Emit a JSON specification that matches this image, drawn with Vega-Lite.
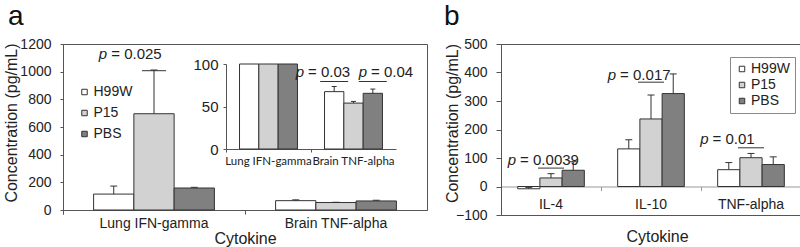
{
  "$schema": "https://vega.github.io/schema/vega-lite/v6.json",
  "background": "white",
  "padding": {"left": 2, "top": 2, "right": 0, "bottom": 0},
  "spacing": 15,
  "config": {
    "font": "Liberation Sans",
    "view": {"stroke": "#555", "strokeWidth": 1},
    "axis": {"grid": false, "domainColor": "#555", "tickColor": "#555", "labelColor": "#222", "titleColor": "#222", "labelFont": "Liberation Sans", "titleFont": "Liberation Sans", "labelFontSize": 14, "titleFontSize": 16, "titleFontWeight": "normal", "labelOverlap": false},
    "axisY": {"labelOverlap": false, "labelSeparation": 0},
    "axisLeft": {"labelOverlap": false},
    "axisQuantitative": {"labelOverlap": false},
    "legend": {"symbolType": "square", "symbolSize": 30, "symbolStrokeColor": "#333", "symbolStrokeWidth": 1, "labelFont": "Liberation Sans", "labelFontSize": 14, "labelColor": "#222", "rowPadding": 4, "labelOffset": 2},
    "title": {"font": "Liberation Sans", "fontWeight": "normal", "color": "#111", "anchor": "start", "frame": "group", "fontSize": 28}
  },
  "datasets": {
    "a": [
      {"cytokine": "Lung IFN-gamma", "group": "H99W", "mean": 115, "upper": 173},
      {"cytokine": "Lung IFN-gamma", "group": "P15", "mean": 696, "upper": 1012},
      {"cytokine": "Lung IFN-gamma", "group": "PBS", "mean": 159, "upper": 164},
      {"cytokine": "Brain TNF-alpha", "group": "H99W", "mean": 67.5, "upper": 73.5},
      {"cytokine": "Brain TNF-alpha", "group": "P15", "mean": 54, "upper": 56},
      {"cytokine": "Brain TNF-alpha", "group": "PBS", "mean": 65.5, "upper": 70.5}
    ],
    "b": [
      {"cytokine": "IL-4", "group": "H99W", "mean": -8, "upper": -3},
      {"cytokine": "IL-4", "group": "P15", "mean": 30, "upper": 45},
      {"cytokine": "IL-4", "group": "PBS", "mean": 57, "upper": 87},
      {"cytokine": "IL-10", "group": "H99W", "mean": 132, "upper": 164},
      {"cytokine": "IL-10", "group": "P15", "mean": 237, "upper": 321},
      {"cytokine": "IL-10", "group": "PBS", "mean": 326, "upper": 395},
      {"cytokine": "TNF-alpha", "group": "H99W", "mean": 59, "upper": 84},
      {"cytokine": "TNF-alpha", "group": "P15", "mean": 101, "upper": 116},
      {"cytokine": "TNF-alpha", "group": "PBS", "mean": 77, "upper": 104}
    ],
    "annA": [{"cytokine": "Lung IFN-gamma", "ty": 1092, "ly": 1007, "label": "= 0.025"}],
    "annB1": [
      {"cytokine": "IL-4", "ty": 73.7, "label": "= 0.0039"},
      {"cytokine": "IL-10", "ty": 372, "label": "= 0.017"}
    ],
    "annB2": [{"cytokine": "TNF-alpha", "ty": 150, "label": "= 0.01"}],
    "annBline": [
      {"cytokine": "IL-4", "ly": 64.6},
      {"cytokine": "IL-10", "ly": 366},
      {"cytokine": "TNF-alpha", "ly": 135.8}
    ],
    "annI1": [{"cytokine": "Lung IFN-gamma", "ty": 84.4, "label": "= 0.03"}],
    "annI2": [{"cytokine": "Brain TNF-alpha", "ty": 84.4, "label": "= 0.04"}],
    "annIline": [
      {"cytokine": "Brain TNF-alpha", "group": "H99W", "ly": 79.4},
      {"cytokine": "Brain TNF-alpha", "group": "PBS", "ly": 79.4}
    ]
  },
  "resolve": {"scale": {"fill": "independent"}, "legend": {"fill": "independent"}},
  "hconcat": [
    {
      "width": 364,
      "height": 166,
      "title": {"text": "a", "dx": -55, "offset": 6},
      "layer": [
        {
          "layer": [
            {
              "data": {"name": "a"},
              "mark": {"type": "bar", "stroke": "#333", "strokeWidth": 1},
              "encoding": {
                "x": {"field": "cytokine", "type": "nominal", "sort": ["Lung IFN-gamma", "Brain TNF-alpha"], "scale": {"paddingInner": 0, "paddingOuter": 0}, "axis": {"title": "Cytokine", "bandPosition": 0, "tickExtra": true, "labelAngle": 0, "tickSize": 4, "labelPadding": 2, "titleY": 20, "titleBaseline": "top"}},
                "xOffset": {"field": "group", "type": "nominal", "sort": ["H99W", "P15", "PBS"], "scale": {"paddingInner": 0, "paddingOuter": 0.76}},
                "y": {"field": "mean", "type": "quantitative", "scale": {"domain": [0, 1200], "nice": false}, "axis": {"title": "Concentration (pg/mL)", "values": [0, 200, 400, 600, 800, 1000, 1200], "tickCount": 7, "format": "d", "labelOverlap": false, "labelSeparation": 0, "tickSize": 3, "labelPadding": 9, "titleX": -52, "titleY": 78.5, "titleBaseline": "middle"}},
                "fill": {"field": "group", "type": "nominal", "scale": {"domain": ["H99W", "P15", "PBS"], "range": ["#ffffff", "#d2d2d2", "#808080"]}, "legend": {"title": null, "orient": "none", "legendX": 14.5, "legendY": 41, "padding": 0, "rowPadding": 7}}
              }
            },
            {
              "data": {"name": "a"},
              "mark": {"type": "rule", "color": "#333", "strokeWidth": 1},
              "encoding": {
                "x": {"field": "cytokine", "type": "nominal", "sort": ["Lung IFN-gamma", "Brain TNF-alpha"]},
                "xOffset": {"field": "group", "type": "nominal", "sort": ["H99W", "P15", "PBS"]},
                "y": {"field": "mean", "type": "quantitative"},
                "y2": {"field": "upper"}
              }
            },
            {
              "data": {"name": "a"},
              "mark": {"type": "tick", "orient": "horizontal", "size": 7, "thickness": 1, "color": "#333", "opacity": 1},
              "encoding": {
                "x": {"field": "cytokine", "type": "nominal", "sort": ["Lung IFN-gamma", "Brain TNF-alpha"]},
                "xOffset": {"field": "group", "type": "nominal", "sort": ["H99W", "P15", "PBS"]},
                "y": {"field": "upper", "type": "quantitative"}
              }
            },
            {
              "data": {"name": "annA"},
              "mark": {"type": "tick", "orient": "horizontal", "size": 24, "thickness": 1, "color": "#333", "opacity": 1},
              "encoding": {
                "x": {"field": "cytokine", "type": "nominal", "sort": ["Lung IFN-gamma", "Brain TNF-alpha"], "bandPosition": 0.374},
                "y": {"field": "ly", "type": "quantitative"}
              }
            },
            {
              "data": {"name": "annA"},
              "mark": {"type": "text", "text": "p", "fontStyle": "italic", "fontSize": 15, "align": "right", "baseline": "alphabetic", "dx": -2.5, "color": "#222"},
              "encoding": {
                "x": {"field": "cytokine", "type": "nominal", "sort": ["Lung IFN-gamma", "Brain TNF-alpha"], "bandPosition": 0.2566},
                "y": {"field": "ty", "type": "quantitative"}
              }
            },
            {
              "data": {"name": "annA"},
              "mark": {"type": "text", "fontSize": 15, "align": "left", "baseline": "alphabetic", "dx": 1.5, "color": "#222"},
              "encoding": {
                "x": {"field": "cytokine", "type": "nominal", "sort": ["Lung IFN-gamma", "Brain TNF-alpha"], "bandPosition": 0.2566},
                "y": {"field": "ty", "type": "quantitative"},
                "text": {"field": "label"}
              }
            }
          ]
        },
        {
          "layer": [
            {
              "data": {"name": "a"},
              "mark": {"type": "bar", "stroke": "#333", "strokeWidth": 1},
              "encoding": {
                "x": {"field": "cytokine", "type": "nominal", "sort": ["Lung IFN-gamma", "Brain TNF-alpha"], "scale": {"range": [163, 333], "paddingInner": 0, "paddingOuter": 0}, "axis": {"orient": "bottom", "offset": -61, "title": null, "bandPosition": 0, "tickExtra": true, "labelAngle": 0, "labelFont": "Lato", "labelFontSize": 11.5, "tickSize": 3, "labelPadding": 3}},
                "xOffset": {"field": "group", "type": "nominal", "sort": ["H99W", "P15", "PBS"], "scale": {"paddingInner": 0, "paddingOuter": 0.7}},
                "y": {"field": "mean", "type": "quantitative", "scale": {"domain": [0, 100], "range": [105, 20], "clamp": true, "nice": false}, "axis": {"orient": "left", "offset": -163, "title": null, "values": [0, 50, 100], "format": "d", "labelOverlap": false, "labelFontSize": 15, "tickSize": 3, "labelPadding": 5}},
                "fill": {"field": "group", "type": "nominal", "scale": {"domain": ["H99W", "P15", "PBS"], "range": ["#ffffff", "#d2d2d2", "#808080"]}}
              }
            },
            {
              "data": {"name": "a"},
              "transform": [{"filter": "datum.cytokine == 'Brain TNF-alpha'"}],
              "mark": {"type": "rule", "color": "#333", "strokeWidth": 1},
              "encoding": {
                "x": {"field": "cytokine", "type": "nominal", "sort": ["Lung IFN-gamma", "Brain TNF-alpha"]},
                "xOffset": {"field": "group", "type": "nominal", "sort": ["H99W", "P15", "PBS"]},
                "y": {"field": "mean", "type": "quantitative"},
                "y2": {"field": "upper"}
              }
            },
            {
              "data": {"name": "a"},
              "transform": [{"filter": "datum.cytokine == 'Brain TNF-alpha'"}],
              "mark": {"type": "tick", "orient": "horizontal", "size": 5, "thickness": 1, "color": "#333", "opacity": 1},
              "encoding": {
                "x": {"field": "cytokine", "type": "nominal", "sort": ["Lung IFN-gamma", "Brain TNF-alpha"]},
                "xOffset": {"field": "group", "type": "nominal", "sort": ["H99W", "P15", "PBS"]},
                "y": {"field": "upper", "type": "quantitative"}
              }
            },
            {
              "data": {"name": "annIline"},
              "mark": {"type": "tick", "orient": "horizontal", "size": 28, "thickness": 1, "color": "#333", "opacity": 1},
              "encoding": {
                "x": {"field": "cytokine", "type": "nominal", "sort": ["Lung IFN-gamma", "Brain TNF-alpha"]},
                "xOffset": {"field": "group", "type": "nominal", "sort": ["H99W", "P15", "PBS"]},
                "y": {"field": "ly", "type": "quantitative"}
              }
            },
            {
              "data": {"name": "annI1"},
              "mark": {"type": "text", "text": "p", "fontStyle": "italic", "fontSize": 15, "align": "right", "baseline": "alphabetic", "dx": -2.5, "color": "#222"},
              "encoding": {
                "x": {"field": "cytokine", "type": "nominal", "sort": ["Lung IFN-gamma", "Brain TNF-alpha"], "bandPosition": 0.947},
                "y": {"field": "ty", "type": "quantitative"}
              }
            },
            {
              "data": {"name": "annI1"},
              "mark": {"type": "text", "fontSize": 15, "align": "left", "baseline": "alphabetic", "dx": 1.5, "color": "#222"},
              "encoding": {
                "x": {"field": "cytokine", "type": "nominal", "sort": ["Lung IFN-gamma", "Brain TNF-alpha"], "bandPosition": 0.947},
                "y": {"field": "ty", "type": "quantitative"},
                "text": {"field": "label"}
              }
            },
            {
              "data": {"name": "annI2"},
              "mark": {"type": "text", "text": "p", "fontStyle": "italic", "fontSize": 15, "align": "right", "baseline": "alphabetic", "dx": -2.5, "color": "#222"},
              "encoding": {
                "x": {"field": "cytokine", "type": "nominal", "sort": ["Lung IFN-gamma", "Brain TNF-alpha"], "bandPosition": 0.688},
                "y": {"field": "ty", "type": "quantitative"}
              }
            },
            {
              "data": {"name": "annI2"},
              "mark": {"type": "text", "fontSize": 15, "align": "left", "baseline": "alphabetic", "dx": 1.5, "color": "#222"},
              "encoding": {
                "x": {"field": "cytokine", "type": "nominal", "sort": ["Lung IFN-gamma", "Brain TNF-alpha"], "bandPosition": 0.688},
                "y": {"field": "ty", "type": "quantitative"},
                "text": {"field": "label"}
              }
            }
          ]
        }
      ],
      "resolve": {"scale": {"x": "independent", "y": "independent", "xOffset": "independent"}}
    },
    {
      "width": 300,
      "height": 171,
      "title": {"text": "b", "dx": -57, "offset": 6},
      "layer": [
        {
          "data": {"name": "b"},
          "mark": {"type": "bar", "stroke": "#333", "strokeWidth": 1},
          "encoding": {
            "x": {"field": "cytokine", "type": "nominal", "sort": ["IL-4", "IL-10", "TNF-alpha"], "scale": {"paddingInner": 0, "paddingOuter": 0}, "axis": {"title": "Cytokine", "bandPosition": 0, "labelAngle": 0, "offset": -28.5, "tickSize": 4, "labelPadding": 7, "domainColor": "#999", "tickColor": "#999", "titleX": 156, "titleY": 41.5, "titleBaseline": "top"}},
            "xOffset": {"field": "group", "type": "nominal", "sort": ["H99W", "P15", "PBS"], "scale": {"paddingInner": 0, "paddingOuter": 0.75}},
            "y": {"field": "mean", "type": "quantitative", "scale": {"domain": [-100, 500], "nice": false}, "axis": {"title": "Concentration (pg/mL)", "values": [-100, 0, 100, 200, 300, 400, 500], "tickCount": 7, "format": "d", "labelOverlap": false, "labelSeparation": 0, "tickSize": 5, "labelPadding": 9, "titleX": -49, "titleY": 79, "titleBaseline": "middle"}},
            "fill": {"field": "group", "type": "nominal", "scale": {"domain": ["H99W", "P15", "PBS"], "range": ["#ffffff", "#d2d2d2", "#808080"]}, "legend": {"title": null, "orient": "none", "legendX": 229, "legendY": 13, "padding": 5, "strokeColor": "#888", "symbolOffset": 0, "rowPadding": 2, "labelOffset": 2}}
          }
        },
        {
          "data": {"name": "b"},
          "mark": {"type": "rule", "color": "#333", "strokeWidth": 1},
          "encoding": {
            "x": {"field": "cytokine", "type": "nominal", "sort": ["IL-4", "IL-10", "TNF-alpha"]},
            "xOffset": {"field": "group", "type": "nominal", "sort": ["H99W", "P15", "PBS"]},
            "y": {"field": "mean", "type": "quantitative"},
            "y2": {"field": "upper"}
          }
        },
        {
          "data": {"name": "b"},
          "mark": {"type": "tick", "orient": "horizontal", "size": 7, "thickness": 1, "color": "#333", "opacity": 1},
          "encoding": {
            "x": {"field": "cytokine", "type": "nominal", "sort": ["IL-4", "IL-10", "TNF-alpha"]},
            "xOffset": {"field": "group", "type": "nominal", "sort": ["H99W", "P15", "PBS"]},
            "y": {"field": "upper", "type": "quantitative"}
          }
        },
        {
          "data": {"name": "annBline"},
          "mark": {"type": "tick", "orient": "horizontal", "size": 26, "thickness": 1, "color": "#333", "opacity": 1},
          "encoding": {
            "x": {"field": "cytokine", "type": "nominal", "sort": ["IL-4", "IL-10", "TNF-alpha"], "bandPosition": 0.33},
            "y": {"field": "ly", "type": "quantitative"}
          }
        },
        {
          "data": {"name": "annB1"},
          "mark": {"type": "text", "text": "p", "fontStyle": "italic", "fontSize": 15, "align": "right", "baseline": "alphabetic", "dx": -2.5, "color": "#222"},
          "encoding": {
            "x": {"field": "cytokine", "type": "nominal", "sort": ["IL-4", "IL-10", "TNF-alpha"], "bandPosition": 0.176},
            "y": {"field": "ty", "type": "quantitative"}
          }
        },
        {
          "data": {"name": "annB1"},
          "mark": {"type": "text", "fontSize": 15, "align": "left", "baseline": "alphabetic", "dx": 1.5, "color": "#222"},
          "encoding": {
            "x": {"field": "cytokine", "type": "nominal", "sort": ["IL-4", "IL-10", "TNF-alpha"], "bandPosition": 0.176},
            "y": {"field": "ty", "type": "quantitative"},
            "text": {"field": "label"}
          }
        },
        {
          "data": {"name": "annB2"},
          "mark": {"type": "text", "text": "p", "fontStyle": "italic", "fontSize": 15, "align": "right", "baseline": "alphabetic", "dx": -2.5, "color": "#222"},
          "encoding": {
            "x": {"field": "cytokine", "type": "nominal", "sort": ["IL-4", "IL-10", "TNF-alpha"], "bandPosition": 0.1},
            "y": {"field": "ty", "type": "quantitative"}
          }
        },
        {
          "data": {"name": "annB2"},
          "mark": {"type": "text", "fontSize": 15, "align": "left", "baseline": "alphabetic", "dx": 1.5, "color": "#222"},
          "encoding": {
            "x": {"field": "cytokine", "type": "nominal", "sort": ["IL-4", "IL-10", "TNF-alpha"], "bandPosition": 0.1},
            "y": {"field": "ty", "type": "quantitative"},
            "text": {"field": "label"}
          }
        }
      ]
    }
  ]
}
